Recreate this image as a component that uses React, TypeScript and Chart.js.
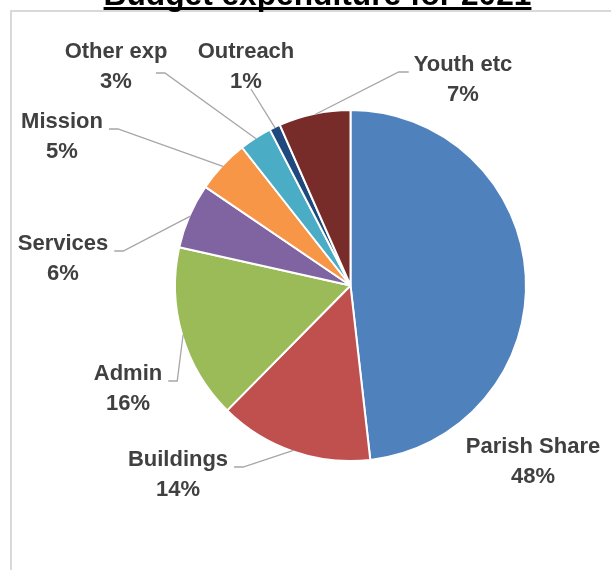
import React, { useEffect, useRef } from "react";
import { Chart, registerables } from "chart.js";

Chart.register(...registerables);

const TITLE = "Budget expenditure for 2021";
const categories = ["Parish Share", "Buildings", "Admin", "Services", "Mission", "Other exp", "Outreach", "Youth etc"];
const values = [48.2, 14.2, 16.1, 6.0, 4.9, 3.0, 1.0, 6.6];
const colors = ["#4F81BD", "#C0504D", "#9BBB59", "#8064A2", "#F79646", "#4BACC6", "#1F497D", "#772C2A"];

// label layout: offset of label (center x, first-line baseline) from pie centre
const LABEL_OFFSETS: [number, number][] = [
  [182.5, 167.5],
  [-172.5, 180.5],
  [-222.5, 94.5],
  [-287.5, -35.5],
  [-288.5, -157.5],
  [-234.5, -227.5],
  [-104.5, -227.5],
  [112.5, -214.5],
];
const LEADER_MODE = ["none", "right", "right", "right", "right", "below", "under", "left"];

const FONT = 'bold 22px "Liberation Sans", Arial, sans-serif';
const LINE_GAP = 30;

const labelPlugin = {
  id: "outerLabels",
  beforeDraw(chart: any) {
    const ctx = chart.ctx;
    ctx.save();
    ctx.fillStyle = "#D9D9D9";
    ctx.fillRect(10, 10, chart.width - 10, 2);
    ctx.fillRect(10, 10, 2, chart.height - 10);
    // title
    ctx.font = 'bold 31.7px "Liberation Sans", Arial, sans-serif';
    ctx.fillStyle = "#000";
    ctx.textAlign = "center";
    ctx.textBaseline = "alphabetic";
    const tw = ctx.measureText(TITLE).width;
    const tcx = 317.5;
    ctx.fillText(TITLE, tcx, 5);
    ctx.fillRect(tcx - tw / 2, 7, tw, 3);
    ctx.restore();
  },
  afterDatasetsDraw(chart: any) {
    const ctx = chart.ctx;
    const meta = chart.getDatasetMeta(0);
    const total = values.reduce((a, b) => a + b, 0);
    ctx.save();
    ctx.font = FONT;
    ctx.textAlign = "center";
    ctx.textBaseline = "alphabetic";
    meta.data.forEach((arc: any, i: number) => {
      const p = arc.getProps(["x", "y", "startAngle", "endAngle", "outerRadius"], true);
      const mid = (p.startAngle + p.endAngle) / 2;
      const ax = p.x + Math.cos(mid) * (p.outerRadius - 1);
      const ay = p.y + Math.sin(mid) * (p.outerRadius - 1);
      const lx = p.x + LABEL_OFFSETS[i][0];
      const ly = p.y + LABEL_OFFSETS[i][1];
      const pct = Math.round((values[i] / total) * 100) + "%";
      const w1 = ctx.measureText(categories[i]).width;
      const w2 = ctx.measureText(pct).width;
      const mode = LEADER_MODE[i];
      ctx.strokeStyle = "#A6A6A6";
      ctx.lineWidth = 1.3;
      ctx.beginPath();
      if (mode === "right") {
        const ex = lx + w1 / 2 + 6;
        const ey = ly + 1;
        ctx.moveTo(ex, ey);
        ctx.lineTo(ex + 9, ey);
        ctx.lineTo(ax, ay);
      } else if (mode === "left") {
        const ex = lx - w1 / 2 - 5;
        const ey = ly + 1;
        ctx.moveTo(ex, ey);
        ctx.lineTo(ex - 10, ey);
        ctx.lineTo(ax, ay);
      } else if (mode === "below") {
        const ex = lx + w2 / 2 + 24;
        const ey = ly + 15;
        ctx.moveTo(ex, ey);
        ctx.lineTo(ex + 9, ey);
        ctx.lineTo(ax, ay);
      } else if (mode === "under") {
        ctx.moveTo(lx + 5, ly + LINE_GAP + 1);
        ctx.lineTo(ax, ay);
      }
      if (mode !== "none") ctx.stroke();
      ctx.fillStyle = "#404040";
      ctx.fillText(categories[i], lx, ly);
      ctx.fillText(pct, lx, ly + LINE_GAP);
    });
    ctx.restore();
  },
};

export default function App() {
  const ref = useRef<HTMLCanvasElement | null>(null);
  useEffect(() => {
    if (!ref.current) return;
    const chart = new Chart(ref.current, {
      type: "pie",
      data: {
        labels: categories,
        datasets: [
          {
            data: values,
            backgroundColor: colors,
            borderColor: "#FFFFFF",
            borderWidth: 2,
          },
        ],
      },
      options: {
        responsive: false,
        devicePixelRatio: 1,
        animation: false,
        layout: { padding: { left: 174, right: 84, top: 109, bottom: 108 } },
        plugins: {
          legend: { display: false },
          tooltip: { enabled: false },
          title: { display: false },
        },
      },
      plugins: [labelPlugin],
    });
    return () => chart.destroy();
  }, []);
  return (
    <div style={{ position: "absolute", left: 0, top: 0, width: 611, height: 570, background: "#fff" }}>
      <canvas ref={ref} width={611} height={570} style={{ display: "block" }} />
    </div>
  );
}
